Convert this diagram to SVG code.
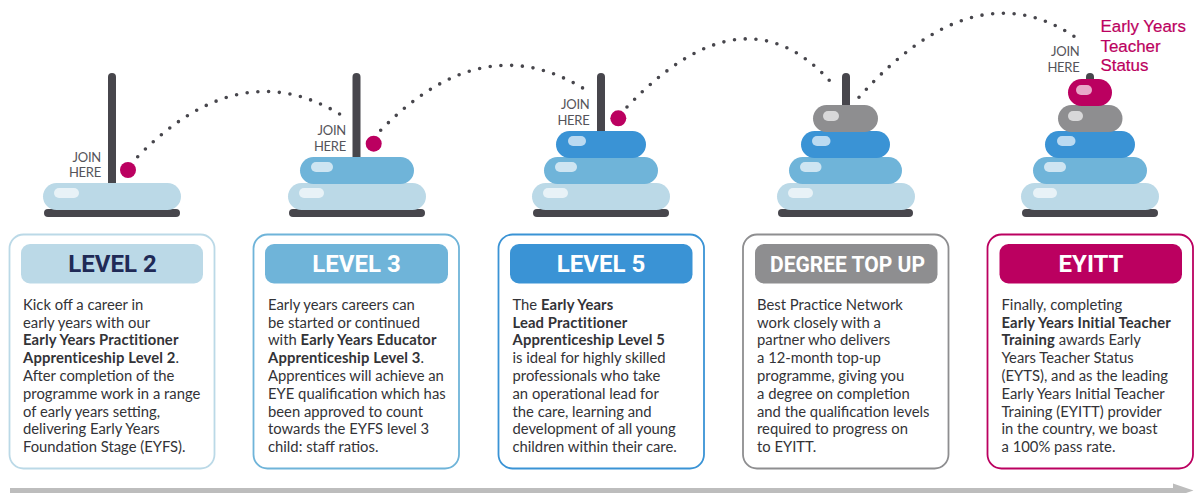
<svg xmlns="http://www.w3.org/2000/svg" width="1196" height="493" viewBox="0 0 1196 493">
<defs>
<style>
text{font-family:"Lato","Liberation Sans",sans-serif}
.pole{fill:#47464c}
.base{fill:#47464c}
.pale{fill:#bbd9e7}.mid{fill:#6fb4d9}.blue{fill:#3a93d5}.grey{fill:#8e8e90}.mag{fill:#bb0060}
.hl{fill:#fff;opacity:.66}
.join{font-size:13px;letter-spacing:-.25px;fill:#55545a;text-anchor:end}
.dot{fill:#bb0060}
.card{fill:#fff;stroke-width:1.8}
.hd{font-family:"Roboto","Liberation Sans",sans-serif;font-size:24px;font-weight:700;text-anchor:middle;fill:#fff}
.body{font-size:14.8px;fill:#333337}
.b{font-weight:700;letter-spacing:.13px}
.status{font-family:"Liberation Sans",sans-serif;font-size:16.9px;fill:#bb0060;stroke:#bb0060;stroke-width:.2px}
.arc{fill:none;stroke:#47464c;stroke-width:3.6;stroke-linecap:round;stroke-dasharray:0 10.75}
</style>
</defs>
<g id="connectors">
<path class="arc" d="M137.7 156.7Q239.5 52.4 341.3 115"/>
<path class="arc" d="M380.7 130.3Q482.5 26 584.3 89"/>
<path class="arc" d="M627 107Q744.500 -16.400 832.300 83.700"/>
<path class="arc" d="M859 97.300Q973.600 -31.200 1074.700 36.700"/>
</g>
<g id="stack-level2">
<rect class="pole" x="108" y="73" width="8" height="115" rx="4"/>
<rect class="base" x="44" y="209" width="136" height="8" rx="4"/>
<rect class="pale" x="43" y="183" width="138" height="27" rx="13.500"/>
<rect class="hl" x="54" y="188" width="25" height="10" rx="5"/>
<circle class="dot" cx="128" cy="170" r="8"/>
<text class="join"><tspan x="101" y="162">JOIN</tspan><tspan x="101" y="177">HERE</tspan></text>
</g>
<g id="stack-level3">
<rect class="pole" x="352.500" y="73" width="8" height="90" rx="4"/>
<rect class="base" x="289" y="209" width="136" height="8" rx="4"/>
<rect class="pale" x="288" y="183" width="138" height="27" rx="13.500"/>
<rect class="hl" x="299" y="188" width="25" height="10" rx="5"/>
<rect class="mid" x="300" y="157" width="114" height="27" rx="13.500"/>
<rect class="hl" x="311" y="162" width="22" height="10" rx="5"/>
<circle class="dot" cx="373.700" cy="143.700" r="8"/>
<text class="join"><tspan x="346" y="135">JOIN</tspan><tspan x="346" y="151">HERE</tspan></text>
</g>
<g id="stack-level5">
<rect class="pole" x="597" y="73" width="8" height="64" rx="4"/>
<rect class="base" x="533" y="209" width="136" height="8" rx="4"/>
<rect class="pale" x="532" y="183" width="138" height="27" rx="13.500"/>
<rect class="hl" x="543" y="188" width="25" height="10" rx="5"/>
<rect class="mid" x="544" y="157" width="114" height="27" rx="13.500"/>
<rect class="hl" x="555" y="162" width="22" height="10" rx="5"/>
<rect class="blue" x="556" y="131" width="90" height="27" rx="13.500"/>
<rect class="hl" x="568" y="136" width="18" height="10" rx="5"/>
<circle class="dot" cx="618.300" cy="118.300" r="8"/>
<text class="join"><tspan x="589.500" y="109">JOIN</tspan><tspan x="589.500" y="125">HERE</tspan></text>
</g>
<g id="stack-degree">
<rect class="pole" x="842" y="73" width="8" height="38" rx="4"/>
<rect class="base" x="778" y="209" width="135" height="8" rx="4"/>
<rect class="pale" x="777" y="183" width="138" height="27" rx="13.500"/>
<rect class="hl" x="788" y="188" width="25" height="10" rx="5"/>
<rect class="mid" x="789" y="157" width="113" height="27" rx="13.500"/>
<rect class="hl" x="800" y="162" width="21.500" height="10" rx="5"/>
<rect class="blue" x="801" y="131" width="89" height="27" rx="13.500"/>
<rect class="hl" x="812" y="136" width="18.500" height="10" rx="5"/>
<rect class="grey" x="813" y="105" width="65" height="27" rx="13.500"/>
<rect class="hl" x="823" y="111" width="16" height="10" rx="5"/>
</g>
<g id="stack-eyitt">
<rect class="pole" x="1086" y="73" width="8" height="12" rx="4"/>
<rect class="base" x="1022" y="209" width="136" height="8" rx="4"/>
<rect class="pale" x="1021" y="183" width="138" height="27" rx="13.500"/>
<rect class="hl" x="1033" y="188" width="24" height="10" rx="5"/>
<rect class="mid" x="1033" y="157" width="114" height="27" rx="13.500"/>
<rect class="hl" x="1044" y="162" width="22" height="10" rx="5"/>
<rect class="blue" x="1045" y="131" width="90" height="27" rx="13.500"/>
<rect class="hl" x="1057" y="136" width="18.500" height="10" rx="5"/>
<rect class="grey" x="1058" y="105" width="64.500" height="27" rx="13.500"/>
<rect class="hl" x="1068" y="111" width="15" height="10" rx="5"/>
<rect class="mag" x="1068" y="79" width="44" height="27" rx="13.500"/>
<rect class="hl" x="1076" y="85" width="16" height="10" rx="5"/>
<text class="join"><tspan x="1079.500" y="56">JOIN</tspan><tspan x="1079.500" y="72">HERE</tspan></text>
<text class="status"><tspan x="1100.500" y="32">Early Years</tspan><tspan x="1100.500" y="51.500">Teacher</tspan><tspan x="1100.500" y="71">Status</tspan></text>
</g>
<g id="card-level2">
<rect class="card" x="9.500" y="234.500" width="205" height="234" rx="14" stroke="#bbd9e7"/>
<rect class="pale" x="21" y="244" width="182" height="39.500" rx="9"/>
<text class="hd" x="112.500" y="272" style="fill:#1f2a56">LEVEL 2</text>
<text class="body"><tspan x="23" y="309.700">Kick off a career in</tspan><tspan x="23" y="327.500">early years with our</tspan><tspan x="23" y="345.300" class="b">Early Years Practitioner</tspan><tspan x="23" y="363.100"><tspan class="b">Apprenticeship Level 2</tspan>.</tspan><tspan x="23" y="380.900">After completion of the</tspan><tspan x="23" y="398.700">programme work in a range</tspan><tspan x="23" y="416.500">of early years setting,</tspan><tspan x="23" y="434.300">delivering Early Years</tspan><tspan x="23" y="452.100">Foundation Stage (EYFS).</tspan></text>
</g>
<g id="card-level3">
<rect class="card" x="253.500" y="234.500" width="205.500" height="234" rx="14" stroke="#6fb4d9"/>
<rect class="mid" x="265" y="244" width="183" height="39.500" rx="9"/>
<text class="hd" x="356.500" y="272">LEVEL 3</text>
<text class="body"><tspan x="268" y="309.700">Early years careers can</tspan><tspan x="268" y="327.500">be started or continued</tspan><tspan x="268" y="345.300">with <tspan class="b">Early Years Educator</tspan></tspan><tspan x="268" y="363.100"><tspan class="b">Apprenticeship Level 3</tspan>.</tspan><tspan x="268" y="380.900">Apprentices will achieve an</tspan><tspan x="268" y="398.700">EYE qualification which has</tspan><tspan x="268" y="416.500">been approved to count</tspan><tspan x="268" y="434.300">towards the EYFS level 3</tspan><tspan x="268" y="452.100">child: staff ratios.</tspan></text>
</g>
<g id="card-level5">
<rect class="card" x="498.500" y="234.500" width="205.500" height="234" rx="14" stroke="#3a93d5"/>
<rect class="blue" x="510" y="244" width="182.500" height="39.500" rx="9"/>
<text class="hd" x="601" y="272">LEVEL 5</text>
<text class="body"><tspan x="512.500" y="309.700">The <tspan class="b">Early Years</tspan></tspan><tspan x="512.500" y="327.500" class="b">Lead Practitioner</tspan><tspan x="512.500" y="345.300" class="b">Apprenticeship Level 5</tspan><tspan x="512.500" y="363.100">is ideal for highly skilled</tspan><tspan x="512.500" y="380.900">professionals who take</tspan><tspan x="512.500" y="398.700">an operational lead for</tspan><tspan x="512.500" y="416.500">the care, learning and</tspan><tspan x="512.500" y="434.300">development of all young</tspan><tspan x="512.500" y="452.100">children within their care.</tspan></text>
</g>
<g id="card-degree">
<rect class="card" x="743" y="234.500" width="205.500" height="234" rx="14" stroke="#8e8e90"/>
<rect class="grey" x="755" y="244" width="182.500" height="39.500" rx="9"/>
<text class="hd" x="847.500" y="271.500" style="font-size:22px" textLength="155" lengthAdjust="spacingAndGlyphs">DEGREE TOP UP</text>
<text class="body"><tspan x="757" y="309.700">Best Practice Network</tspan><tspan x="757" y="327.500">work closely with a</tspan><tspan x="757" y="345.300">partner who delivers</tspan><tspan x="757" y="363.100">a 12-month top-up</tspan><tspan x="757" y="380.900">programme, giving you</tspan><tspan x="757" y="398.700">a degree on completion</tspan><tspan x="757" y="416.500">and the qualification levels</tspan><tspan x="757" y="434.300">required to progress on</tspan><tspan x="757" y="452.100">to EYITT.</tspan></text>
</g>
<g id="card-eyitt">
<rect class="card" x="987.500" y="234.500" width="205.500" height="234" rx="14" stroke="#bb0060"/>
<rect class="mag" x="999.500" y="244" width="182.500" height="39.500" rx="9"/>
<text class="hd" x="1091" y="272">EYITT</text>
<text class="body"><tspan x="1001.500" y="309.700">Finally, completing</tspan><tspan x="1001.500" y="327.500" class="b">Early Years Initial Teacher</tspan><tspan x="1001.500" y="345.300"><tspan class="b">Training</tspan> awards Early</tspan><tspan x="1001.500" y="363.100">Years Teacher Status</tspan><tspan x="1001.500" y="380.900">(EYTS), and as the leading</tspan><tspan x="1001.500" y="398.700">Early Years Initial Teacher</tspan><tspan x="1001.500" y="416.500">Training (EYITT) provider</tspan><tspan x="1001.500" y="434.300">in the country, we boast</tspan><tspan x="1001.500" y="452.100">a 100% pass rate.</tspan></text>
</g>
<g id="progress-arrow">
<polygon points="10,488 1173,488 1173,483.500 1193.500,490.500 1186,493 10,493" fill="#bdbdbd"/>
</g>
</svg>
